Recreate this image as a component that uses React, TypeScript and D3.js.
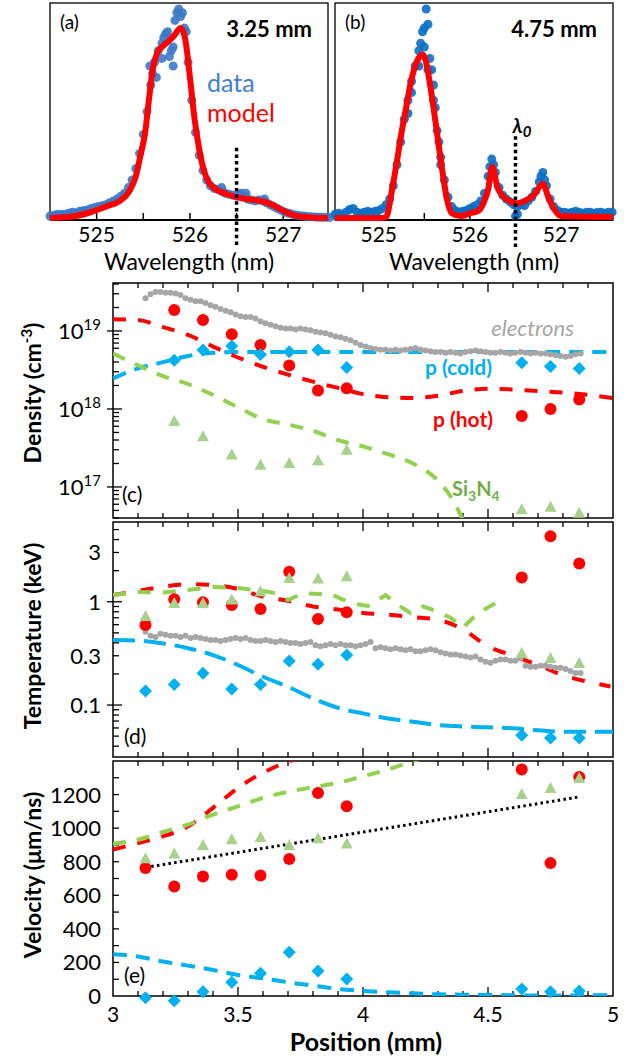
import React, { useEffect, useRef } from "react";
import * as d3 from "d3";

const W = 636;
const H = 1057;
const FONT = "Lato, 'Open Sans', sans-serif";

// ---------------- spectra (normalised intensity) ----------------
const specAWave = d3.range(76).map(i => 524.5 + i * 0.04);
const specAData = [
  0.01, 0.015, 0.02, 0.018, 0.02, 0.025, 0.03, 0.028, 0.035, 0.04,
  0.042, 0.05, 0.055, 0.06, 0.065, 0.07, 0.08, 0.09, 0.1, 0.115,
  0.13, 0.16, 0.2, 0.26, 0.34, 0.44, 0.56, 0.7, 0.82, 0.88,
  0.92, 0.97, 0.85, 0.9, 1.08, 1.06, 1.0, 0.82, 0.62, 0.45,
  0.33, 0.25, 0.2, 0.17, 0.155, 0.15, 0.14, 0.13, 0.125, 0.12,
  0.115, 0.12, 0.115, 0.1, 0.095, 0.09, 0.095, 0.09, 0.08, 0.07,
  0.06, 0.05, 0.04, 0.03, 0.025, 0.02, 0.015, 0.012, 0.01, 0.008,
  0.006, 0.005, 0.004, 0.004, 0.003, 0.003,
];
const specAExtraWave = [525.57, 525.6, 525.64, 525.7, 525.72, 525.76, 525.8, 525.82, 525.84, 525.88, 525.92, 525.96, 526.34, 526.55, 526.6, 526.8];
const specAExtraData = [0.8, 0.76, 0.74, 0.84, 0.95, 0.98, 0.88, 0.8, 1.04, 1.1, 1.08, 0.98, 0.16, 0.13, 0.13, 0.1];
const specAModelWave = [524.5, 524.7, 524.9, 525.1, 525.25, 525.35, 525.42, 525.47, 525.52, 525.56, 525.6, 525.65, 525.7, 525.77, 525.83, 525.9, 525.95, 526.0, 526.05, 526.1, 526.15, 526.2, 526.3, 526.4, 526.5, 526.6, 526.7, 526.8, 526.9, 527.0, 527.1, 527.2, 527.3, 527.48];
const specAModel = [0, 0.005, 0.025, 0.06, 0.09, 0.14, 0.22, 0.33, 0.45, 0.62, 0.78, 0.87, 0.9, 0.93, 0.96, 1.0, 0.94, 0.74, 0.52, 0.36, 0.25, 0.19, 0.145, 0.125, 0.11, 0.1, 0.095, 0.085, 0.065, 0.038, 0.017, 0.007, 0.003, 0];

const specBWave = d3.range(77).map(i => 524.52 + i * 0.04);
const specBData = [
  0.02, 0.025, 0.02, 0.03, 0.045, 0.05, 0.03, 0.025, 0.03, 0.035,
  0.03, 0.035, 0.04, 0.05, 0.07, 0.1, 0.17, 0.28, 0.4, 0.52,
  0.62, 0.72, 0.8, 0.88, 0.98, 1.1, 0.84, 0.62, 0.46, 0.32,
  0.2, 0.11, 0.06, 0.04, 0.03, 0.035, 0.04, 0.05, 0.06, 0.07,
  0.09, 0.13, 0.22, 0.31, 0.24, 0.16, 0.12, 0.1, 0.085, 0.07,
  0.06, 0.07, 0.065, 0.09, 0.11, 0.14, 0.19, 0.24, 0.17, 0.1,
  0.06, 0.04, 0.03, 0.03, 0.025, 0.03, 0.035, 0.03, 0.025, 0.03,
  0.03, 0.025, 0.03, 0.03, 0.025, 0.03, 0.03,
];
const specBExtraWave = [525.32, 525.36, 525.44, 525.46, 525.5, 525.5, 525.54, 525.54, 525.58, 525.6, 525.62, 525.66, 525.68, 526.22, 526.26, 526.5, 526.52, 526.78, 526.82];
const specBExtraData = [0.55, 0.66, 0.8, 0.92, 1.0, 0.9, 1.02, 0.78, 0.78, 0.7, 0.58, 0.4, 0.28, 0.27, 0.28, 0.01, 0.02, 0.22, 0.2];
const specBModelWave = [524.52, 525.0, 525.08, 525.15, 525.2, 525.25, 525.3, 525.35, 525.4, 525.45, 525.48, 525.52, 525.55, 525.6, 525.65, 525.7, 525.75, 525.8, 525.9, 526.0, 526.1, 526.15, 526.2, 526.245, 526.3, 526.37, 526.43, 526.51, 526.6, 526.7, 526.8, 526.86, 526.92, 527.0, 527.57];
const specBModel = [0, 0, 0.005, 0.16, 0.3, 0.45, 0.58, 0.71, 0.8, 0.85, 0.86, 0.82, 0.74, 0.585, 0.41, 0.24, 0.095, 0.025, 0.01, 0.025, 0.04, 0.08, 0.15, 0.27, 0.165, 0.11, 0.09, 0.077, 0.09, 0.12, 0.18, 0.11, 0.05, 0.01, 0.005];

const lambda0 = 526.5;

// ---------------- measured points vs position (mm) ----------------
const positions = [3.13, 3.245, 3.36, 3.475, 3.59, 3.705, 3.82, 3.935, 4.635, 4.75, 4.865];

// density (cm^-3)
const densHot = [null, 1.86e19, 1.38e19, 9.1e18, 6.6e18, 3.6e18, 1.72e18, 1.84e18, 8.1e17, 1.0e18, 1.32e18];
const densCold = [null, 4.2e18, 5.7e18, 6.4e18, 5.0e18, 5.4e18, 5.7e18, 3.4e18, 3.9e18, 3.5e18, 3.3e18];
const densSi = [null, 6.9e17, 4.4e17, 2.57e17, 1.9e17, 2.0e17, 2.17e17, 2.95e17, 5.1e16, 5.5e16, 4.6e16];

// temperature (keV)
const tempHot = [0.595, 1.06, 0.99, 0.93, 0.85, 1.95, 0.68, 0.79, 1.72, 4.3, 2.35];
const tempSi = [0.72, 0.96, 0.96, 1.04, 1.25, 1.68, 1.66, 1.75, 0.316, 0.283, 0.253];
const tempCold = [0.137, 0.158, 0.203, 0.143, 0.158, 0.267, 0.248, 0.305, 0.051, 0.048, 0.048];

// velocity (um/ns)
const velHot = [762, 653, 712, 722, 718, 816, 1210, 1130, 1349, 792, 1305];
const velSi = [818, 846, 897, 931, 945, 897, 937, 906, 1200, 1236, 1296];
const velCold = [-10, -28, 26, 82, 135, 260, 149, 101, 42, 26, 30];

// linear fit of the hot proton velocity
const fitPos = [3.13, 4.865];
const fitVel = [766, 1186];

// electron profiles (Thomson), every 0.02 mm from 3.13 mm
const electronPos = d3.range(88).map(i => 3.13 + i * 0.02);
const electronLogDens = [
  19.42, 19.47, 19.5, 19.5, 19.49, 19.49, 19.48, 19.46, 19.42, 19.4,
  19.38, 19.38, 19.36, 19.33, 19.31, 19.28, 19.26, 19.24, 19.21, 19.19,
  19.18, 19.18, 19.16, 19.12, 19.1, 19.08, 19.06, 19.04, 19.03, 19.03,
  19.02, 19.03, 19.02, 19.01, 18.99, 18.98, 18.97, 18.95, 18.93, 18.92,
  18.9, 18.88, 18.85, 18.82, 18.8, 18.78, 18.77, 18.76, 18.76, 18.75,
  18.76, 18.75, 18.76, 18.77, 18.78, 18.76, 18.75, 18.74, 18.73, 18.73,
  18.72, 18.73, 18.72, 18.71, 18.73, 18.74, 18.75, 18.74, 18.73, 18.72,
  18.72, 18.73, 18.72, 18.71, 18.72, 18.73, 18.72, 18.71, 18.72, 18.71,
  18.71, 18.7, 18.69, 18.68, 18.67, 18.68, 18.7, 18.71,
];
const electronLogTemp = [
  -0.29, -0.33, -0.34, -0.31, -0.32, -0.33, -0.33, -0.34, -0.33, -0.35,
  -0.34, -0.35, -0.36, -0.37, -0.37, -0.38, -0.37, -0.36, -0.35, -0.36,
  -0.35, -0.37, -0.38, -0.38, -0.37, -0.38, -0.39, -0.38, -0.39, -0.4,
  -0.4, -0.41, -0.4, -0.39, -0.42, -0.43, -0.42, -0.41, -0.42, -0.41,
  -0.42, -0.42, -0.43, -0.42, -0.41, -0.39, -0.45, -0.44, -0.45, -0.46,
  -0.45, -0.46, -0.47, -0.46, -0.48, -0.48, -0.47, -0.46, -0.47, -0.49,
  -0.5, -0.51, -0.51, -0.52, -0.53, -0.54, -0.53, -0.56, -0.58, -0.59,
  -0.57, -0.56, -0.56, -0.57, -0.57, -0.55, -0.62, -0.63, -0.63, -0.62,
  -0.62, -0.63, -0.64, -0.64, -0.65, -0.67, -0.69, -0.69,
];

// ---------------- simulation curves ----------------
const modelPos = d3.range(21).map(i => 3 + i * 0.1);
const modelDensHotLog = [19.15, 19.14, 19.05, 18.95, 18.8, 18.66, 18.54, 18.44, 18.35, 18.27, 18.19, 18.15, 18.14, 18.17, 18.23, 18.26, 18.25, 18.23, 18.21, 18.18, 18.14];
const modelDensColdLog = [18.39, 18.52, 18.6, 18.68, 18.72, 18.73, 18.73, 18.73, 18.73, 18.73, 18.73, 18.73, 18.73, 18.73, 18.73, 18.73, 18.73, 18.73, 18.73, 18.73, 18.73];
const modelDensSiPos = [3.0, 3.1, 3.2, 3.3, 3.4, 3.5, 3.6, 3.7, 3.8, 3.9, 4.0, 4.1, 4.2, 4.3, 4.35, 4.4];
const modelDensSiLog = [18.71, 18.56, 18.42, 18.32, 18.18, 18.02, 17.87, 17.8, 17.72, 17.6, 17.52, 17.42, 17.3, 17.08, 16.88, 16.58];

const modelTempHot = [1.16, 1.27, 1.4, 1.48, 1.45, 1.33, 1.12, 1.02, 0.9, 0.84, 0.78, 0.75, 0.71, 0.67, 0.54, 0.37, 0.3, 0.244, 0.195, 0.168, 0.151];
const modelTempCold = [0.426, 0.42, 0.395, 0.355, 0.305, 0.244, 0.188, 0.15, 0.116, 0.094, 0.083, 0.074, 0.069, 0.064, 0.062, 0.061, 0.0595, 0.057, 0.055, 0.055, 0.055];
const modelTempSiPos = [3.0, 3.1, 3.2, 3.3, 3.4, 3.5, 3.6, 3.65, 3.7, 3.76, 3.82, 3.87, 3.92, 3.97, 4.02, 4.09, 4.14, 4.19, 4.24, 4.29, 4.35, 4.4, 4.44, 4.48, 4.54];
const modelTempSi = [1.16, 1.24, 1.23, 1.3, 1.39, 1.36, 1.27, 1.21, 1.04, 1.21, 1.19, 1.19, 1.05, 0.95, 0.91, 1.16, 0.93, 0.78, 0.9, 0.82, 0.7, 0.56, 0.7, 0.83, 1.0];

const modelVelHot = [872, 911, 951, 1011, 1121, 1240, 1330, 1396, 1440];
const modelVelSi = [906, 931, 977, 1021, 1081, 1130, 1180, 1216, 1244, 1270, 1309, 1349, 1399, 1450];
const modelVelCold = [249, 235, 205, 181, 155, 125, 105, 82, 62, 42, 30, 22, 16, 10, 8, 6, 4, 3, 3, 4, 6];

const RED = "#ff0000";
const BLUE = "#00b0f0";
const GREEN_PT = "#a9d18e";
const GREEN_LN = "#92d050";
const GREEN_TX = "#70ad47";
const GREY = "#a6a6a6";

const diamondPath = "M0,-6.5L6.5,0L0,6.5L-6.5,0Z";
const trianglePath = "M0,-6.5L6,4.5L-6,4.5Z";

export default function App() {
  const ref = useRef<SVGSVGElement>(null);

  useEffect(() => {
    const svg = d3.select(ref.current);
    svg.selectAll("*").remove();
    svg.attr("font-family", FONT);

    // ============ spectra ============
    const spectrum = (o: any) => {
      const x = d3.scaleLinear().domain(o.domain).range([o.x0, o.x1]);
      const y = d3.scaleLinear().domain([0, 1]).range([218, 28]);
      const g = svg.append("g");
      g.append("rect").attr("x", o.x0).attr("y", 3).attr("width", o.x1 - o.x0).attr("height", 217)
        .attr("fill", "none").attr("stroke", "#000").attr("stroke-width", 1.3);
      g.append("line").attr("x1", o.x0).attr("x2", o.x1).attr("y1", 220).attr("y2", 220)
        .attr("stroke", "#000").attr("stroke-width", 2);
      d3.range(1050, 1056).map(v => v / 2).forEach(t => {
        if (t < o.domain[0] || t > o.domain[1]) return;
        g.append("line").attr("x1", x(t)).attr("x2", x(t)).attr("y1", 220).attr("y2", 213)
          .attr("stroke", "#000").attr("stroke-width", 1.5);
      });
      [525, 526, 527].forEach(t => {
        g.append("text").attr("x", x(t)).attr("y", 242).attr("text-anchor", "middle")
          .attr("font-size", 21).text(t);
      });
      g.append("text").attr("x", (o.x0 + o.x1) / 2).attr("y", 270).attr("text-anchor", "middle")
        .attr("font-size", 23).text("Wavelength (nm)");

      const pts = o.wave.map((w: number, i: number) => [w, o.data[i]])
        .concat(o.extraWave.map((w: number, i: number) => [w, o.extraData[i]]));
      g.append("g").selectAll("circle").data(pts).join("circle")
        .attr("cx", (d: any) => x(d[0])).attr("cy", (d: any) => y(d[1])).attr("r", 4.5)
        .attr("fill", o.dotColor).attr("fill-opacity", 0.9);

      const line = d3.line<number>().x((d, i) => x(o.modelWave[i])).y(d => y(d)).curve(d3.curveMonotoneX);
      g.append("path").attr("d", line(o.model)).attr("fill", "none").attr("stroke", RED)
        .attr("stroke-width", 6).attr("stroke-linejoin", "round");

      g.append("line").attr("x1", x(lambda0)).attr("x2", x(lambda0)).attr("y1", y(o.lamTop)).attr("y2", 248)
        .attr("stroke", "#000").attr("stroke-width", 3.5).attr("stroke-dasharray", "3.5,3.2");

      g.append("text").attr("x", o.x0 + 10).attr("y", 29).attr("font-size", 19).text(o.tag);
      g.append("text").attr("x", o.x1 - 16).attr("y", 37).attr("text-anchor", "end")
        .attr("font-size", 22).attr("font-weight", "bold").text(o.label);
      return { x, y, g };
    };

    const a = spectrum({
      x0: 50, x1: 328, domain: [524.5, 527.48], wave: specAWave, data: specAData,
      extraWave: specAExtraWave, extraData: specAExtraData, modelWave: specAModelWave, model: specAModel,
      dotColor: "#3b78c8", lamTop: 0.37, tag: "(a)", label: "3.25 mm",
    });
    a.g.append("text").attr("x", 207).attr("y", 92).attr("font-size", 25).attr("fill", "#3f80d0").text("data");
    a.g.append("text").attr("x", 207).attr("y", 122).attr("font-size", 25).attr("fill", RED).text("model");

    const b = spectrum({
      x0: 335, x1: 613, domain: [524.52, 527.57], wave: specBWave, data: specBData,
      extraWave: specBExtraWave, extraData: specBExtraData, modelWave: specBModelWave, model: specBModel,
      dotColor: "#0a6ec4", lamTop: 0.43, tag: "(b)", label: "4.75 mm",
    });
    const lt = b.g.append("text").attr("x", b.x(lambda0) - 3).attr("y", 133)
      .attr("font-size", 20).attr("font-weight", "bold").attr("font-style", "italic");
    lt.append("tspan").text("λ");
    lt.append("tspan").attr("dy", 4).attr("font-size", 15).text("0");

    // ============ lower panels ============
    const px = d3.scaleLinear().domain([3, 5]).range([113, 613]);
    const L = 113, R = 613;

    const frame = (top: number, bottom: number, id: string) => {
      const g = svg.append("g");
      g.append("clipPath").attr("id", id).append("rect")
        .attr("x", L).attr("y", top).attr("width", R - L).attr("height", bottom - top);
      g.append("rect").attr("x", L).attr("y", top).attr("width", R - L).attr("height", bottom - top)
        .attr("fill", "none").attr("stroke", "#000").attr("stroke-width", 1.5);
      d3.range(31, 50).map(v => v / 10).forEach(t => {
        const len = Math.abs(t * 2 - Math.round(t * 2)) < 1e-6 ? 9 : 5;
        g.append("line").attr("x1", px(t)).attr("x2", px(t)).attr("y1", bottom).attr("y2", bottom - len)
          .attr("stroke", "#000").attr("stroke-width", 1.3);
        g.append("line").attr("x1", px(t)).attr("x2", px(t)).attr("y1", top).attr("y2", top + len)
          .attr("stroke", "#000").attr("stroke-width", 1.3);
      });
      return g;
    };

    const yTick = (g: any, yy: number, major: boolean) => {
      g.append("line").attr("x1", major ? L - 6 : L).attr("x2", L + (major ? 9 : 6)).attr("y1", yy).attr("y2", yy)
        .attr("stroke", "#000").attr("stroke-width", 1.3);
    };

    const dashed = (g: any, clip: string, xs: number[], ys: number[], y: any, color: string, dash: string, curve = d3.curveMonotoneX) => {
      const line = d3.line<number>().x((d, i) => px(xs[i])).y(d => y(d)).curve(curve);
      g.append("path").attr("clip-path", `url(#${clip})`).attr("d", line(ys.slice(0, xs.length)))
        .attr("fill", "none").attr("stroke", color).attr("stroke-width", 4).attr("stroke-dasharray", dash);
    };

    const markers = (g: any, vals: (number | null)[], y: any, kind: string) => {
      const pts = positions.map((p, i) => [p, vals[i]]).filter(d => d[1] != null) as number[][];
      const sel = g.append("g");
      if (kind === "circle") {
        sel.selectAll("circle").data(pts).join("circle").attr("cx", (d: any) => px(d[0]))
          .attr("cy", (d: any) => y(d[1])).attr("r", 6).attr("fill", RED);
      } else {
        sel.selectAll("path").data(pts).join("path")
          .attr("transform", (d: any) => `translate(${px(d[0])},${y(d[1])})`)
          .attr("d", kind === "diamond" ? diamondPath : trianglePath)
          .attr("fill", kind === "diamond" ? BLUE : GREEN_PT);
      }
    };

    const greyDots = (g: any, vals: number[], y: any) => {
      g.append("g").selectAll("circle").data(vals).join("circle")
        .attr("cx", (d: number, i: number) => px(electronPos[i])).attr("cy", (d: number) => y(Math.pow(10, d)))
        .attr("r", 3).attr("fill", GREY);
    };

    const yLabel = (text: any, cy: number) => {
      const t = svg.append("text").attr("transform", `translate(41,${cy}) rotate(-90)`)
        .attr("text-anchor", "middle").attr("font-size", 23).attr("font-weight", "bold");
      text(t);
    };

    // ---- (c) density ----
    const yc = d3.scaleLog().domain([4e16, 4.12e19]).range([518, 283]);
    const gc = frame(283, 518, "clipC");
    [16, 17, 18, 19].forEach(k => {
      d3.range(1, 10).forEach(m => {
        const v = m * Math.pow(10, k);
        if (v < 4e16 || v > 4.12e19) return;
        yTick(gc, yc(v), m === 1);
      });
    });
    [17, 18, 19].forEach(k => {
      const t = gc.append("text").attr("x", 101).attr("y", yc(Math.pow(10, k)) + 8)
        .attr("text-anchor", "end").attr("font-size", 22);
      t.append("tspan").text("10");
      t.append("tspan").attr("dy", -9).attr("font-size", 15).text(k);
    });
    dashed(gc, "clipC", modelPos, modelDensColdLog.map(v => Math.pow(10, v)), yc, BLUE, "14,9");
    dashed(gc, "clipC", modelPos, modelDensHotLog.map(v => Math.pow(10, v)), yc, RED, "13,12");
    dashed(gc, "clipC", modelDensSiPos, modelDensSiLog.map(v => Math.pow(10, v)), yc, GREEN_LN, "13,11");
    greyDots(gc, electronLogDens, yc);
    markers(gc, densHot, yc, "circle");
    markers(gc, densSi, yc, "triangle");
    markers(gc, densCold, yc, "diamond");
    gc.append("text").attr("x", 574).attr("y", 336).attr("text-anchor", "end").attr("font-size", 22)
      .attr("font-style", "italic").attr("fill", GREY).text("electrons");
    gc.append("text").attr("x", 492).attr("y", 375).attr("text-anchor", "end").attr("font-size", 21)
      .attr("font-weight", "bold").attr("fill", BLUE).text("p (cold)");
    gc.append("text").attr("x", 493).attr("y", 427).attr("text-anchor", "end").attr("font-size", 21)
      .attr("font-weight", "bold").attr("fill", RED).text("p (hot)");
    const si = gc.append("text").attr("x", 452).attr("y", 496).attr("font-size", 20)
      .attr("font-weight", "bold").attr("fill", GREEN_TX);
    si.append("tspan").text("Si");
    si.append("tspan").attr("dy", 5).attr("font-size", 14).text("3");
    si.append("tspan").attr("dy", -5).text("N");
    si.append("tspan").attr("dy", 5).attr("font-size", 14).text("4");
    gc.append("text").attr("x", 122).attr("y", 502).attr("font-size", 21).text("(c)");
    yLabel((t: any) => {
      t.append("tspan").text("Density (cm");
      t.append("tspan").attr("dy", -9).attr("font-size", 15).text("-3");
      t.append("tspan").attr("dy", 9).text(")");
    }, 393);

    // ---- (d) temperature ----
    const yd = d3.scaleLog().domain([0.0314, 5.92]).range([757, 522]);
    const gd = frame(522, 757, "clipD");
    [-2, -1, 0].forEach(k => {
      d3.range(1, 10).forEach(m => {
        const v = m * Math.pow(10, k);
        if (v < 0.0314 || v > 5.92) return;
        yTick(gd, yd(v), m === 1);
      });
    });
    [3, 1, 0.3, 0.1].forEach(v => {
      gd.append("text").attr("x", 101).attr("y", yd(v) + 8).attr("text-anchor", "end")
        .attr("font-size", 22).text(v);
    });
    dashed(gd, "clipD", modelPos, modelTempCold, yd, BLUE, "22,9");
    dashed(gd, "clipD", modelPos.slice(0, 20).concat([4.99]), modelTempHot, yd, RED, "13,15");
    dashed(gd, "clipD", modelTempSiPos, modelTempSi, yd, GREEN_LN, "13,12", d3.curveLinear);
    greyDots(gd, electronLogTemp, yd);
    markers(gd, tempHot, yd, "circle");
    markers(gd, tempSi, yd, "triangle");
    markers(gd, tempCold, yd, "diamond");
    gd.append("text").attr("x", 124).attr("y", 744).attr("font-size", 21).text("(d)");
    yLabel((t: any) => t.text("Temperature (keV)"), 636);

    // ---- (e) velocity ----
    const ye = d3.scaleLinear().domain([0, 1400]).range([996, 761]);
    const ge = frame(761, 996, "clipE");
    d3.range(100, 1400, 100).forEach(v => yTick(ge, ye(v), false));
    d3.range(0, 1400, 200).forEach(v => {
      ge.append("text").attr("x", 101).attr("y", ye(v) + 8).attr("text-anchor", "end")
        .attr("font-size", 22).text(v);
    });
    dashed(ge, "clipE", modelPos, modelVelCold, ye, BLUE, "14,9");
    dashed(ge, "clipE", modelPos.slice(0, modelVelHot.length), modelVelHot, ye, RED, "13,12");
    dashed(ge, "clipE", modelPos.slice(0, modelVelSi.length), modelVelSi, ye, GREEN_LN, "13,11");
    ge.append("path").attr("d", d3.line<number>().x((d, i) => px(fitPos[i])).y(d => ye(d))(fitVel))
      .attr("fill", "none").attr("stroke", "#000").attr("stroke-width", 3)
      .attr("stroke-dasharray", "2.5,3.3");
    markers(ge, velHot, ye, "circle");
    markers(ge, velSi, ye, "triangle");
    markers(ge, velCold, ye, "diamond");
    ge.append("text").attr("x", 124).attr("y", 983).attr("font-size", 21).text("(e)");
    [3, 3.5, 4, 4.5, 5].forEach(t => {
      ge.append("text").attr("x", px(t)).attr("y", 1022).attr("text-anchor", "middle")
        .attr("font-size", 21).text(t);
    });
    ge.append("text").attr("x", 366).attr("y", 1051).attr("text-anchor", "middle")
      .attr("font-size", 25).attr("font-weight", "bold").text("Position (mm)");
    yLabel((t: any) => t.text("Velocity (μm/ns)"), 875);
  }, []);

  return (
    <div style={{ position: "absolute", left: 0, top: 0 }}>
      <svg ref={ref} width={W} height={H} style={{ display: "block", background: "#fff" }} />
    </div>
  );
}
